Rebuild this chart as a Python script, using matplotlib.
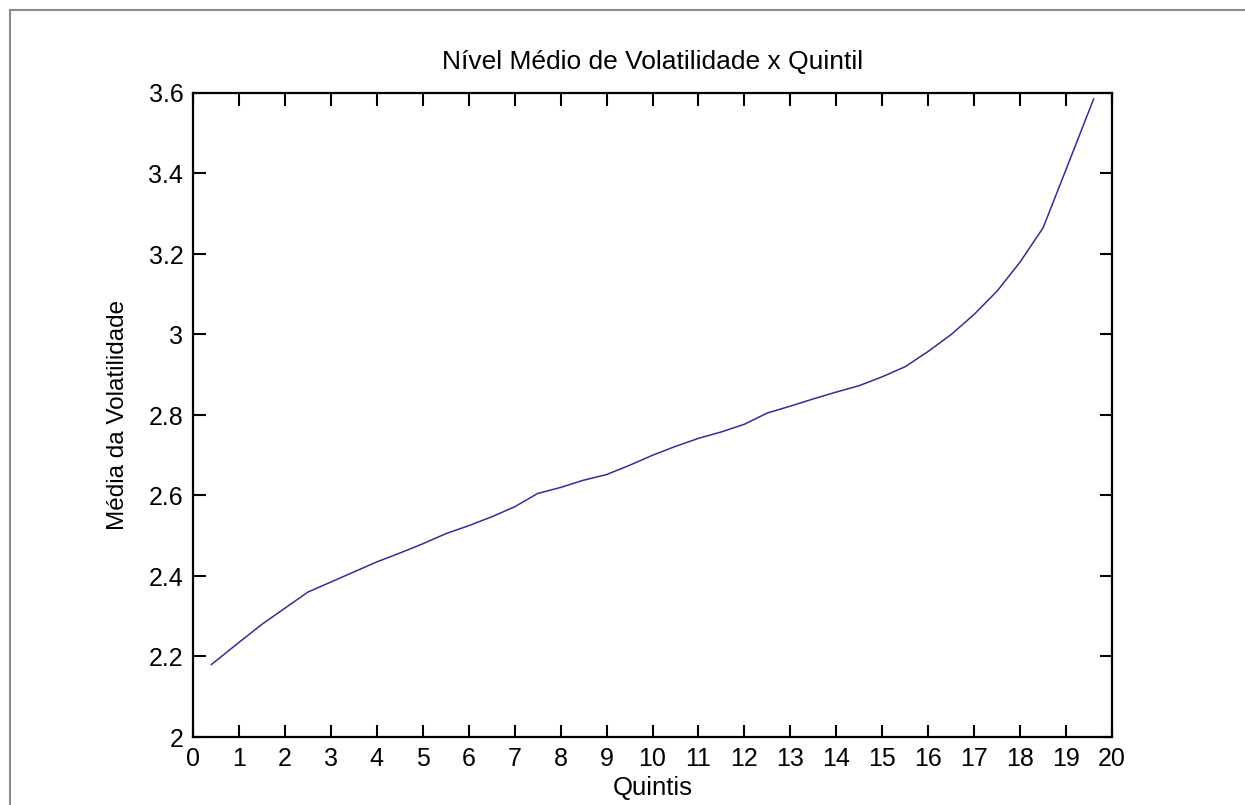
import matplotlib
matplotlib.use("Agg")
import matplotlib.pyplot as plt
from matplotlib.patches import Rectangle

plt.rcParams['font.family'] = ['Liberation Sans', 'DejaVu Sans']

# Data
quintis = [0.4, 1.0, 1.5, 2.0, 2.5, 3.0, 3.5, 4.0, 4.5, 5.0, 5.5, 6.0, 6.5, 7.0,
           7.5, 8.0, 8.5, 9.0, 9.5, 10.0, 10.5, 11.0, 11.5, 12.0, 12.5, 13.0,
           13.5, 14.0, 14.5, 15.0, 15.5, 16.0, 16.5, 17.0, 17.5, 18.0, 18.5,
           19.0, 19.6]
volatilidade = [2.18, 2.235, 2.28, 2.32, 2.36, 2.385, 2.41, 2.435, 2.457, 2.48,
                2.505, 2.525, 2.547, 2.572, 2.605, 2.62, 2.638, 2.652, 2.675,
                2.70, 2.722, 2.742, 2.758, 2.777, 2.805, 2.822, 2.84, 2.857,
                2.873, 2.895, 2.92, 2.958, 3.0, 3.05, 3.108, 3.18, 3.265,
                3.41, 3.585]
x_ticks = list(range(0, 21))
y_ticks = [2.0, 2.2, 2.4, 2.6, 2.8, 3.0, 3.2, 3.4, 3.6]
y_tick_labels = ['2', '2.2', '2.4', '2.6', '2.8', '3', '3.2', '3.4', '3.6']

fig = plt.figure(figsize=(12.45, 8.05), dpi=100)
fig.patch.set_facecolor('white')

# grey frame visible at top/left of the reference
fig.add_artist(Rectangle((10 / 1245, -0.1), 1.2, 1 - 10 / 805 + 0.1,
                         transform=fig.transFigure, fill=False,
                         edgecolor='#8a8a8a', linewidth=1.5))

ax = fig.add_axes([193 / 1245, 1 - 737 / 805, (1112 - 193) / 1245, (737 - 93) / 805])
ax.plot(quintis, volatilidade, color='#2f2f96', linewidth=1.1)

ax.set_xlim(0, 20)
ax.set_ylim(2, 3.6)
ax.set_xticks(x_ticks)
ax.set_xticklabels([str(t) for t in x_ticks])
ax.set_yticks(y_ticks)
ax.set_yticklabels(y_tick_labels)
ax.tick_params(direction='in', length=9, width=1.5, top=True, right=True,
               labelsize=18, colors='black')
ax.tick_params(axis='x', pad=7)
ax.tick_params(axis='y', pad=7)
for s in ax.spines.values():
    s.set_linewidth(1.6)
    s.set_color('black')

ax.set_title('Nível Médio de Volatilidade x Quintil', fontsize=19, pad=17)
ax.set_xlabel('Quintis', fontsize=18.5, labelpad=4)
ax.set_ylabel('Média da Volatilidade', fontsize=17.5, labelpad=14)

fig.savefig('out.png', dpi=100)
